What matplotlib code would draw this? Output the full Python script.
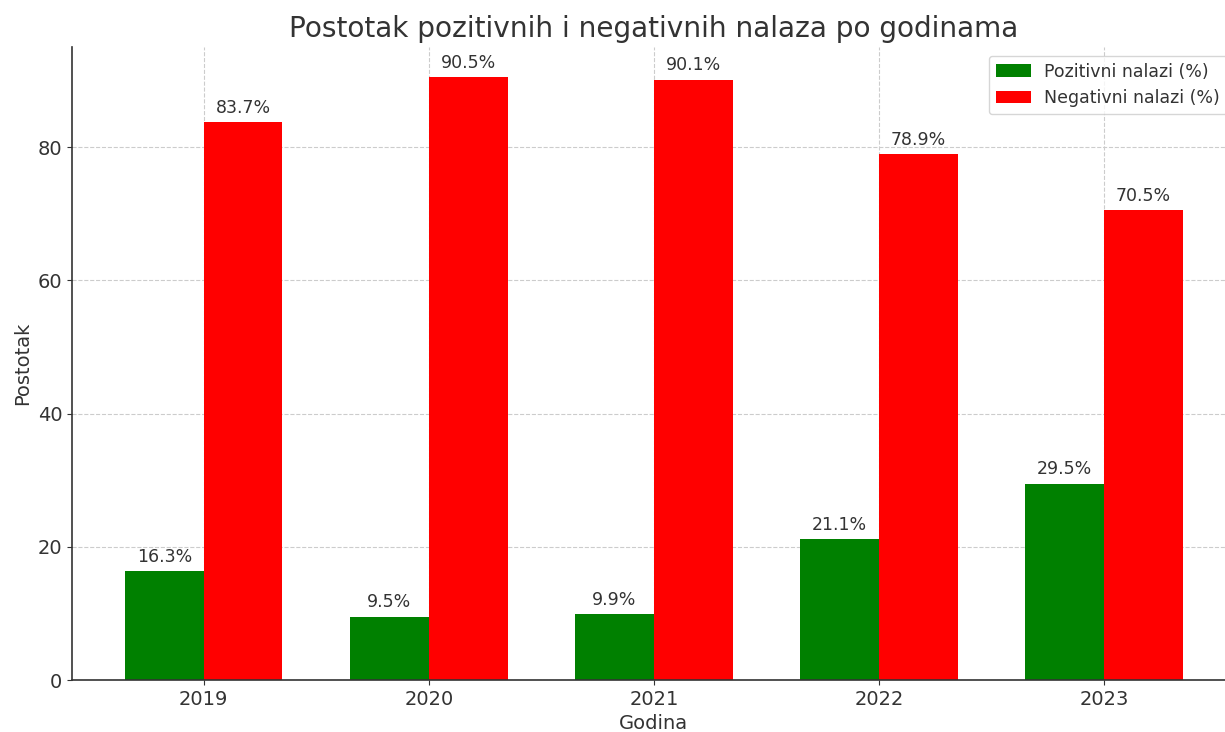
import matplotlib
matplotlib.use("Agg")
import matplotlib.pyplot as plt
import numpy as np

years = ["2019", "2020", "2021", "2022", "2023"]
positive = [16.3, 9.5, 9.9, 21.1, 29.5]
negative = [83.7, 90.5, 90.1, 78.9, 70.5]
labels = ["Pozitivni nalazi (%)", "Negativni nalazi (%)"]

txt = "#333333"
plt.rcParams["font.family"] = ["DejaVu Sans"]
plt.rcParams["text.color"] = txt
plt.rcParams["axes.labelcolor"] = txt
plt.rcParams["xtick.color"] = txt
plt.rcParams["ytick.color"] = txt

fig = plt.figure(figsize=(12.25, 7.32), dpi=100)
ax = fig.add_axes([0.0588, 0.0710, 0.9500, 0.8648])

x = np.arange(len(years))
w = 0.35
b1 = ax.bar(x - w / 2, positive, w, color="green", label=labels[0], zorder=2)
b2 = ax.bar(x + w / 2, negative, w, color="red", label=labels[1], zorder=2)

for bars in (b1, b2):
    for r in bars:
        h = r.get_height()
        ax.annotate(f"{h:.1f}%", (r.get_x() + r.get_width() / 2, h),
                    xytext=(0, 4), textcoords="offset points",
                    ha="center", va="bottom", fontsize=12.5, color=txt)

ax.set_xticks(x)
ax.set_xticklabels(years)
ax.set_ylim(0, 95.025)
ax.set_xlim(-0.585, 4.585)
ax.tick_params(labelsize=14)
ax.set_title("Postotak pozitivnih i negativnih nalaza po godinama", fontsize=20.2, color=txt, pad=7)
ax.set_xlabel("Godina", fontsize=14, labelpad=4)
ax.set_ylabel("Postotak", fontsize=14, labelpad=4)
ax.grid(True, linestyle="--", color="#cccccc", linewidth=0.8, zorder=0)
ax.set_axisbelow(True)
for s in ("top", "right"):
    ax.spines[s].set_visible(False)
for s in ("left", "bottom"):
    ax.spines[s].set_color(txt)
    ax.spines[s].set_linewidth(1.2)

leg = ax.legend(loc="upper right", fontsize=12.5, frameon=True)
leg.get_frame().set_edgecolor("#cccccc")

fig.savefig("out.png", dpi=100)
